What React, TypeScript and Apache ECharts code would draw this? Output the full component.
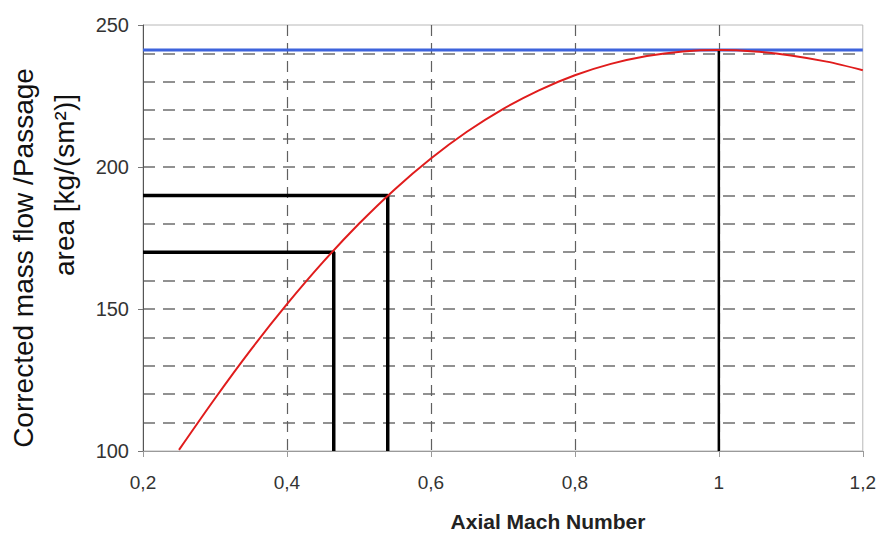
import React, { useEffect, useRef } from "react";
import * as echarts from "echarts";

// Axial Mach number vs corrected mass flow per passage area
const machValues = [0.25, 0.3, 0.35, 0.4, 0.45, 0.5, 0.55, 0.6, 0.65, 0.7, 0.75, 0.8, 0.85, 0.9, 0.95, 1.0, 1.05, 1.1, 1.15, 1.2];
const flowValues = [100.4, 118.5, 135.7, 151.7, 166.5, 180.0, 192.2, 203.0, 212.4, 220.4, 227.0, 232.3, 236.3, 239.1, 240.7, 241.2, 240.7, 239.3, 237.1, 234.1];

const chokeFlow = 241.2;
const chokeMach = 1.0;
const opA = { mach: 0.54, flow: 190 };
const opB = { mach: 0.465, flow: 170 };

const xMin = 0.2;
const xMax = 1.2;
const yMin = 100;
const yMax = 250;

const yTitleLine1 = "Corrected mass flow /Passage";
const yTitleLine2 = "area [kg/(sm²)]";
const xTitle = "Axial Mach Number";

const FONT = "'Liberation Sans', Arial, sans-serif";

export default function App() {
  const ref = useRef<HTMLDivElement>(null);
  useEffect(() => {
    document.body.style.margin = "0";
    if (!ref.current) return;
    const chart = echarts.init(ref.current, undefined, { renderer: "svg" });
    const gridDash = [12, 8];
    const hColors = Array.from({ length: 16 }, (_, i) => (i === 0 || i === 15 ? "transparent" : "#6e6e6e"));
    const vColors = Array.from({ length: 6 }, (_, i) => (i === 0 || i === 5 ? "transparent" : "#606060"));
    chart.setOption({
      animation: false,
      backgroundColor: "#ffffff",
      grid: {
        left: 143,
        right: 13,
        top: 25,
        bottom: 82,
        show: true,
        borderColor: "#b8b8b8",
        borderWidth: 1,
      },
      xAxis: [
        {
          type: "value",
          min: xMin,
          max: xMax,
          interval: 0.2,
          axisLine: { show: true, lineStyle: { color: "#9a9a9a", width: 1 } },
          axisTick: { show: true, length: 6, lineStyle: { color: "#9a9a9a" } },
          axisLabel: {
            margin: 22,
            fontSize: 19,
            fontFamily: FONT,
            color: "#333",
            formatter: (v: number) => String(Math.round(v * 10) / 10).replace(".", ","),
          },
          splitLine: { show: true, lineStyle: { color: vColors, type: [11, 7], width: 1.2 } },
        },
      ],
      yAxis: [
        {
          type: "value",
          min: yMin,
          max: yMax,
          interval: 50,
          axisLine: { show: true, lineStyle: { color: "#555", width: 1 } },
          axisTick: { show: true, length: 5, lineStyle: { color: "#777" } },
          axisLabel: { margin: 14, fontSize: 20, fontFamily: FONT, color: "#333" },
          splitLine: { show: false },
        },
        {
          type: "value",
          min: yMin,
          max: yMax,
          interval: 10,
          position: "left",
          axisLine: { show: false },
          axisTick: { show: false },
          axisLabel: { show: false },
          splitLine: { show: true, lineStyle: { color: hColors, type: gridDash, width: 1.5 } },
        },
      ],
      graphic: [
        {
          type: "text",
          x: 23,
          y: 258,
          rotation: Math.PI / 2,
          style: {
            text: yTitleLine1,
            font: `28px ${FONT}`,
            fill: "#111",
            textAlign: "center",
            textVerticalAlign: "middle",
          },
        },
        {
          type: "text",
          x: 64,
          y: 185,
          rotation: Math.PI / 2,
          style: {
            text: yTitleLine2,
            font: `28px ${FONT}`,
            fill: "#111",
            textAlign: "center",
            textVerticalAlign: "middle",
          },
        },
        {
          type: "text",
          x: 548,
          y: 521,
          style: {
            text: xTitle,
            font: `bold 21px ${FONT}`,
            fill: "#222",
            textAlign: "center",
            textVerticalAlign: "middle",
          },
        },
      ],
      series: [
        {
          type: "line",
          name: "choke",
          data: [
            [xMin, chokeFlow],
            [xMax, chokeFlow],
          ],
          showSymbol: false,
          lineStyle: { color: "#3d63dc", width: 3 },
          z: 3,
        },
        {
          type: "line",
          name: "opA",
          data: [
            [xMin, opA.flow],
            [opA.mach, opA.flow],
            [opA.mach, yMin],
          ],
          showSymbol: false,
          lineStyle: { color: "#000", width: 3.5 },
          z: 4,
        },
        {
          type: "line",
          name: "opB",
          data: [
            [xMin, opB.flow],
            [opB.mach, opB.flow],
            [opB.mach, yMin],
          ],
          showSymbol: false,
          lineStyle: { color: "#000", width: 3.5 },
          z: 4,
        },
        {
          type: "line",
          name: "chokeMach",
          data: [
            [chokeMach, yMin],
            [chokeMach, chokeFlow],
          ],
          showSymbol: false,
          lineStyle: { color: "#000", width: 2.5 },
          z: 4,
        },
        {
          type: "line",
          name: "flow",
          data: machValues.map((m, i) => [m, flowValues[i]]),
          showSymbol: false,
          smooth: 0.3,
          lineStyle: { color: "#e01c1c", width: 2 },
          z: 5,
        },
      ],
    });
    return () => chart.dispose();
  }, []);
  return <div ref={ref} style={{ width: 879, height: 533 }} />;
}
